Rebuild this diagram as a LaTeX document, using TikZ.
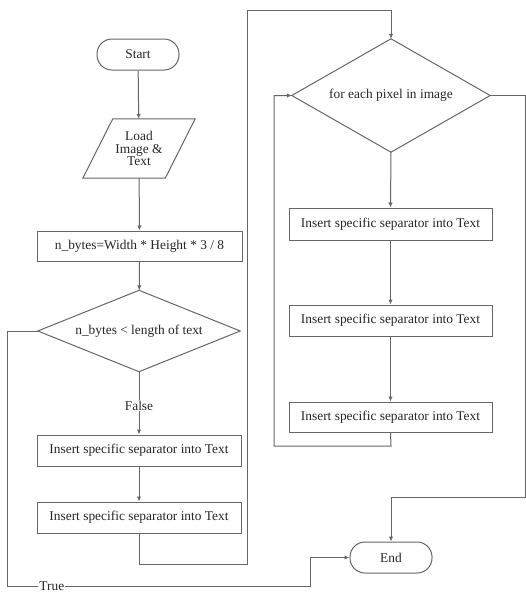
\documentclass[tikz,border=0pt]{standalone}
\usepackage{fontspec}
\setmainfont{Liberation Serif}
\newfontfamily\flowfont{Liberation Serif}
\usetikzlibrary{arrows.meta}
\begin{document}
\begin{tikzpicture}[x=1pt,y=-1pt,
  every node/.style={font=\flowfont\fontsize{13.4}{12.5}\selectfont, text=black!85, inner sep=0pt},
  ln/.style={draw=black!60, line width=1pt},
  arr/.style={ln, -{Latex[length=5pt,width=4.5pt]}},
  boxnode/.style={ln, rectangle, minimum width=204pt, minimum height=31pt},
  termnode/.style={ln, rectangle, rounded corners=15pt, minimum width=82pt, minimum height=31pt},
  ghost/.style={rectangle, align=center}
]
\useasboundingbox (0,0) rectangle (526,592);
\fill[white] (0,0) rectangle (526,592);

% left column
\node[termnode] (start) at (138,54.5) {Start};
\node[ghost, minimum width=82pt, minimum height=59pt] (load) at (139,148.5) {Load\\Image \&\\Text};
\draw[ln] ([xshift=15pt]load.north west) -- ([xshift=15pt]load.north east)
  -- ([xshift=-15pt]load.south east) -- ([xshift=-15pt]load.south west) -- cycle;
\node[boxnode, minimum width=205pt, minimum height=30pt] (calc) at (139.5,246) {n\_bytes=Width * Height * 3 / 8};
\node[ghost, minimum width=202pt, minimum height=81pt] (dia1) at (139,331) {n\_bytes < length of text};
\draw[ln] (dia1.north) -- (dia1.east) -- (dia1.south) -- (dia1.west) -- cycle;
\node[boxnode] (ins1) at (139,450.5) {Insert specific separator into Text};
\node[boxnode] (ins2) at (139,517.5) {Insert specific separator into Text};

% right column
\node[ghost, minimum width=198pt, minimum height=113pt] (dia2) at (391,95.5) {for each pixel in image};
\draw[ln] (dia2.north) -- (dia2.east) -- (dia2.south) -- (dia2.west) -- cycle;
\node[boxnode, minimum width=203pt, minimum height=32pt] (insA) at (390.5,224) {Insert specific separator into Text};
\node[boxnode, minimum width=203pt] (insB) at (390.5,320.5) {Insert specific separator into Text};
\node[boxnode, minimum width=203pt, minimum height=30pt] (insC) at (390.5,417) {Insert specific separator into Text};
\node[termnode] (stop) at (391,557.5) {End};

% routing coordinates
\coordinate (l1) at (139,564);
\coordinate (l2) at (247,564);
\coordinate (l3) at (247,10);
\coordinate (l4) at (391,10);
\coordinate (t1) at (7,331);
\coordinate (t2) at (7,586);
\coordinate (t3) at (310,586);
\coordinate (t4) at (310,557.5);
\coordinate (r1) at (391,446);
\coordinate (r2) at (274,446);
\coordinate (r3) at (274,95.5);
\coordinate (e1) at (525,95.5);
\coordinate (e2) at (525,497);
\coordinate (e3) at (391,497);

% connectors
\draw[arr] (start) -- (load);
\draw[arr] (load) -- (calc);
\draw[arr] (calc) -- (dia1);
\draw[arr] (dia1.south) -- node[fill=white, inner sep=1pt, pos=0.54] {False} (ins1.north);
\draw[arr] (ins1) -- (ins2);
\draw[arr] (ins2.south) -- (l1) -- (l2) -- (l3) -- (l4) -- (dia2.north);
\draw[arr] (dia1.west) -- (t1) -- (t2) -- node[fill=white, inner sep=1pt, pos=0.148] {True} (t3) -- (t4) -- (stop.west);
\draw[arr] (dia2.south) -- (insA.north);
\draw[arr] (insA) -- (insB);
\draw[arr] (insB) -- (insC);
\draw[arr] (insC.south) -- (r1) -- (r2) -- (r3) -- (dia2.west);
\draw[arr] (dia2.east) -- (e1) -- (e2) -- (e3) -- (stop.north);
\end{tikzpicture}
\end{document}
